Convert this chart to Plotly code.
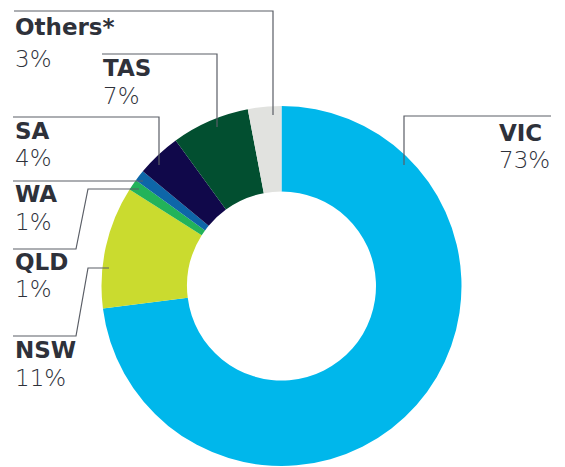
import plotly.graph_objects as go

W, H = 565, 467

states = ["VIC", "NSW", "QLD", "WA", "SA", "TAS", "Others*"]
shares = [73, 11, 1, 1, 4, 7, 3]
colors = ["#00B7EB", "#CADB2F", "#22B35A", "#0E66A8", "#10084A", "#024F30", "#E1E2DF"]


def px(x):
    return x / W


def py(y):
    return 1 - y / H


fig = go.Figure(
    go.Pie(
        labels=states,
        values=shares,
        sort=False,
        direction="clockwise",
        rotation=0,
        hole=0.525,
        marker=dict(colors=colors, line=dict(width=0)),
        textinfo="none",
        hoverinfo="label+percent",
        domain=dict(x=[px(101), px(462)], y=[py(466), py(106)]),
        showlegend=False,
    )
)

# label positions (pixel) : (x, y_name_center, y_pct_center)
label_pos = {
    "Others*": (13, 27, 59),
    "TAS": (101, 68, 96),
    "SA": (13, 131, 158),
    "WA": (13, 194, 222),
    "QLD": (13, 262, 289),
    "NSW": (13, 350, 378),
    "VIC": (497, 133, 160),
}

text_color = "#2E313A"
annotations = []
for s, v in zip(states, shares):
    x, yn, yp = label_pos[s]
    annotations.append(dict(
        x=px(x), y=py(yn), xref="paper", yref="paper", xanchor="left", yanchor="middle",
        text="<b>%s</b>" % s, showarrow=False,
        font=dict(family="DejaVu Sans", size=23, color=text_color),
    ))
    annotations.append(dict(
        x=px(x), y=py(yp), xref="paper", yref="paper", xanchor="left", yanchor="middle",
        text="%d%%" % v, showarrow=False,
        font=dict(family="DejaVu Sans", size=23, color=text_color, weight=200),
    ))

# leader lines (pixel polylines)
leaders = [
    [(14, 11), (273, 11), (273, 115)],
    [(102, 54), (217, 54), (217, 127)],
    [(13, 117), (159, 117), (159, 165)],
    [(13, 181), (143, 181)],
    [(13, 249), (76, 249), (88, 189), (139, 189)],
    [(13, 336), (76, 336), (88, 268), (109, 268)],
    [(551, 116), (404, 116), (404, 165)],
]
shapes = []
for pts in leaders:
    path = "M " + " L ".join("%f,%f" % (px(a), py(b)) for a, b in pts)
    shapes.append(dict(type="path", path=path, xref="paper", yref="paper",
                       line=dict(color="#5A5E66", width=1.2)))

fig.update_layout(
    width=W, height=H,
    margin=dict(l=0, r=0, t=0, b=0),
    paper_bgcolor="white", plot_bgcolor="white",
    annotations=annotations,
    shapes=shapes,
)

fig.write_html("out.html", config={"displayModeBar": False},
               post_script="document.body.style.margin='0';")
